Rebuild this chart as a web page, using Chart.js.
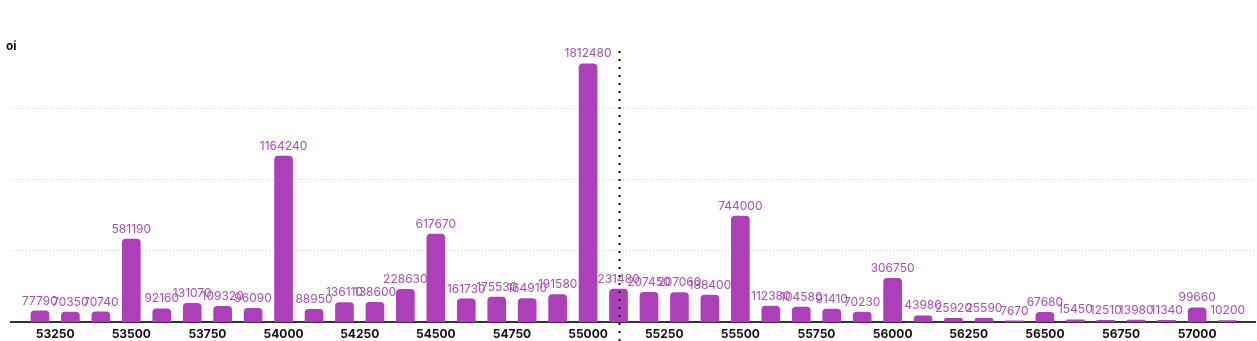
<!DOCTYPE html>
<html>
<head>
<meta charset="utf-8">
<script src="https://cdn.jsdelivr.net/npm/chart.js@4"></script>
<style>
  html, body { margin: 0; padding: 0; background: #fff; }
  #wrap { width: 1257px; height: 341px; position: relative; }
</style>
</head>
<body>
<div id="wrap"><canvas id="oiChart"></canvas></div>
<script>
const strikes = [53200, 53300, 53400, 53500, 53600, 53700, 53800, 53900, 54000, 54100,
    54200, 54300, 54400, 54500, 54600, 54700, 54800, 54900, 55000, 55100,
    55200, 55300, 55400, 55500, 55600, 55700, 55800, 55900, 56000, 56100,
    56200, 56300, 56400, 56500, 56600, 56700, 56800, 56900, 57000, 57100];
const oiValues = [77790, 70350, 70740, 581190, 92160, 131070, 109320, 96090, 1164240, 88950,
    136110, 138600, 228630, 617670, 161730, 175530, 164910, 191580, 1812480, 231480,
    207450, 207060, 188400, 744000, 112380, 104580, 91410, 70230, 306750, 43980,
    25920, 25590, 7670, 67680, 15450, 12510, 13980, 11340, 99660, 10200];
const xTicks = [53250, 53500, 53750, 54000, 54250, 54500, 54750, 55000,
    55250, 55500, 55750, 56000, 56250, 56500, 56750, 57000];
const yGrid = [500000, 1000000, 1500000];
const spotPrice = 55102;
const yTitle = 'oi';

const barColor = '#ad3fba';
const labelColor = '#a94fb6';
const gridColor = '#cfcfcf';

const fontName = 'Inter, "Open Sans", sans-serif';

// values on top of each bar
const barLabels = {
    id: 'barLabels',
    afterDatasetsDraw(chart) {
        const ctx = chart.ctx;
        const meta = chart.getDatasetMeta(0);
        ctx.save();
        ctx.font = '12px ' + fontName;
        ctx.fillStyle = labelColor;
        ctx.textAlign = 'center';
        ctx.textBaseline = 'bottom';
        meta.data.forEach(function(bar, i) {
            ctx.fillText(String(oiValues[i]), bar.x, bar.y - 4);
        });
        ctx.restore();
    }
};

// dotted marker for current price + axis title
const spotLine = {
    id: 'spotLine',
    afterDraw(chart) {
        const ctx = chart.ctx;
        const x = Math.round(chart.scales.x.getPixelForValue(spotPrice)) + 0.5;
        ctx.save();
        ctx.strokeStyle = '#111';
        ctx.lineWidth = 2;
        ctx.setLineDash([2, 6]);
        ctx.beginPath();
        ctx.moveTo(x, 51);
        ctx.lineTo(x, chart.height);
        ctx.stroke();
        ctx.setLineDash([]);
        ctx.font = 'bold 12px ' + fontName;
        ctx.fillStyle = '#111';
        ctx.textAlign = 'left';
        ctx.textBaseline = 'middle';
        ctx.fillText(yTitle, 6, 46);
        ctx.restore();
    }
};

new Chart('oiChart', {
    type: 'bar',
    data: {
        datasets: [{
            data: strikes.map(function(s, i) { return { x: s, y: oiValues[i] }; }),
            backgroundColor: barColor,
            borderRadius: { topLeft: 4, topRight: 4 },
            borderSkipped: 'start',
            barThickness: 18,
        }]
    },
    options: {
        responsive: true,
        maintainAspectRatio: false,
        animation: false,
        layout: { padding: { left: 11, right: 2, top: 37, bottom: 0 } },
        plugins: {
            legend: { display: false },
            tooltip: { enabled: false },
        },
        scales: {
            x: {
                type: 'linear',
                offset: false,
                min: 53105,
                max: 57190,
                afterBuildTicks: function(scale) {
                    scale.ticks = xTicks.map(function(v) { return { value: v }; });
                },
                afterFit: function(scale) { scale.height = 19; },
                ticks: {
                    autoSkip: false,
                    maxRotation: 0,
                    padding: 5,
                    color: '#111',
                    font: { family: fontName, size: 12, weight: 'bold' },
                    callback: function(v) { return String(v); },
                },
                grid: { display: false, drawTicks: false },
                border: { display: true, color: '#333', width: 2 },
            },
            y: {
                display: true,
                min: 0,
                max: 2000000,
                afterFit: function(scale) { scale.width = 0; },
                afterBuildTicks: function(scale) {
                    scale.ticks = yGrid.map(function(v) { return { value: v }; });
                },
                ticks: { display: false },
                grid: {
                    color: gridColor,
                    lineWidth: 1,
                    drawTicks: false,
                },
                border: { display: false, dash: [1, 2] },
            }
        }
    },
    plugins: [barLabels, spotLine]
});
</script>
</body>
</html>
